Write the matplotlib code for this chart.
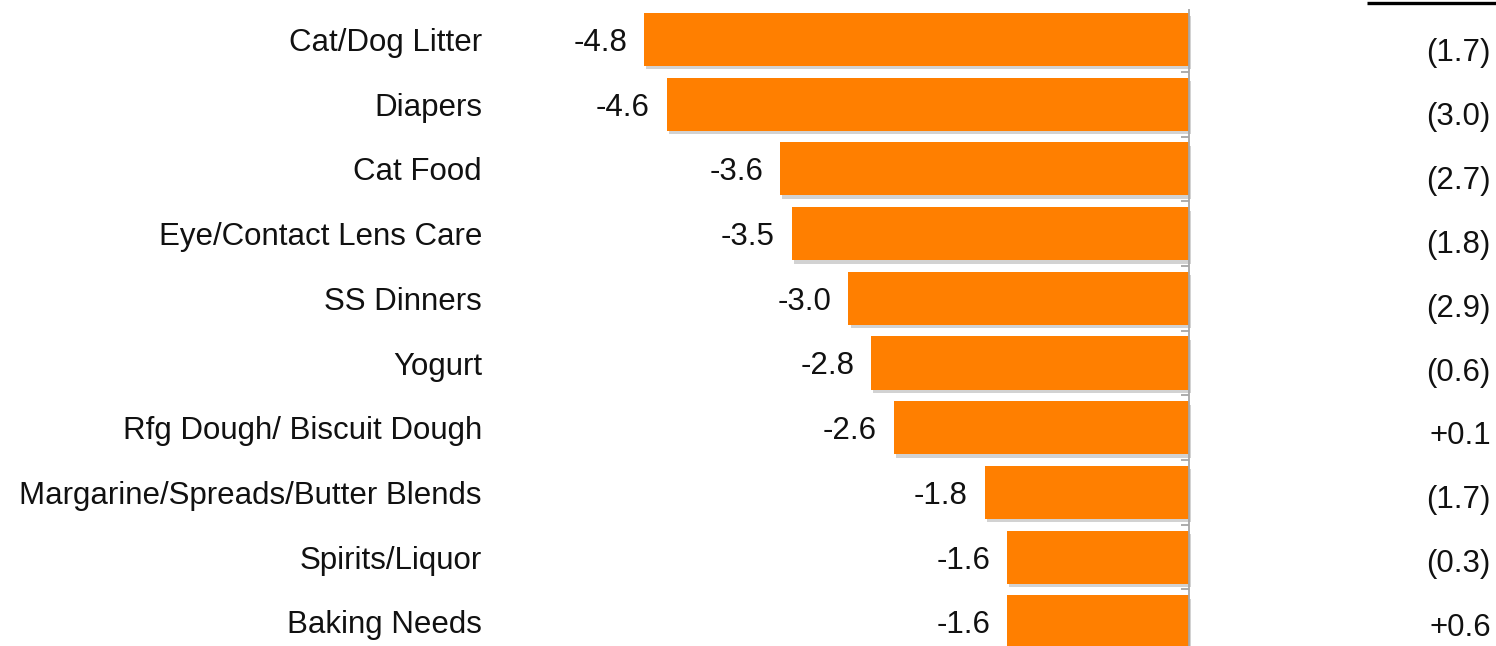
import numpy as np
import matplotlib.pyplot as plt
import matplotlib.patheffects as pe

plt.rcParams['font.family'] = ['Liberation Sans', 'DejaVu Sans']

categories = ['Cat/Dog Litter', 'Diapers', 'Cat Food', 'Eye/Contact Lens Care',
              'SS Dinners', 'Yogurt', 'Rfg Dough/ Biscuit Dough',
              'Margarine/Spreads/Butter Blends', 'Spirits/Liquor', 'Baking Needs']
values = [-4.8, -4.6, -3.6, -3.5, -3.0, -2.8, -2.6, -1.8, -1.6, -1.6]
side_labels = ['(1.7)', '(3.0)', '(2.7)', '(1.8)', '(2.9)', '(0.6)', '+0.1',
               '(1.7)', '(0.3)', '+0.6']

W, H = 1496, 646
fig = plt.figure(figsize=(W / 100, H / 100), dpi=100)
ax = fig.add_axes([0, 0, 1, 1])

# pixel layout: zero line at x=1189, 113.5 px per unit, 64.7 px per row
px_unit = 113.5
x0 = 1189
row = 64.7
first = 39.5
ax.set_xlim(-x0 / px_unit, (W - x0) / px_unit)
ax.set_ylim((H - first) / row, -first / row)
ax.axis('off')

y = np.arange(len(categories))
bars = ax.barh(y, values, height=0.82, color='#FF7F00', zorder=3)
for b in bars:
    b.set_path_effects([pe.SimplePatchShadow(offset=(1.5, -2.5), shadow_rgbFace='#909090', alpha=0.4),
                        pe.Normal()])

# zero axis with small ticks between categories
ax.vlines(0, -0.47, len(categories) + 0.5, color='#A6A6A6', lw=1.3, zorder=4)
for yb in np.arange(0.5, len(categories), 1.0):
    ax.hlines(yb, -8 / px_unit, 0, color='#A6A6A6', lw=1.3, zorder=4)

fs = 22.5
base = 11.5 / row          # baseline sits a bit below the row centre
for i, (c, v) in enumerate(zip(categories, values)):
    ax.text((482 - x0) / px_unit, i + base, c, ha='right', va='baseline', fontsize=fs, color='#111111')
    ax.text(v - 17 / px_unit, i + base, f'{v:.1f}', ha='right', va='baseline', fontsize=fs, color='#111111')

# right-hand column runs on its own slightly tighter spacing
for i, s in enumerate(side_labels):
    yb = (61 + i * 63.9 - first) / row
    ax.text((1491 - x0) / px_unit, yb, s, ha='right', va='baseline', fontsize=fs, color='#111111')

# short rule above the right-hand column
ax.plot([(1367 - x0) / px_unit, (W - x0) / px_unit], [(2.5 - first) / row] * 2,
        color='black', lw=2.4, solid_capstyle='butt', clip_on=False)

fig.savefig('out.png', dpi=100)
